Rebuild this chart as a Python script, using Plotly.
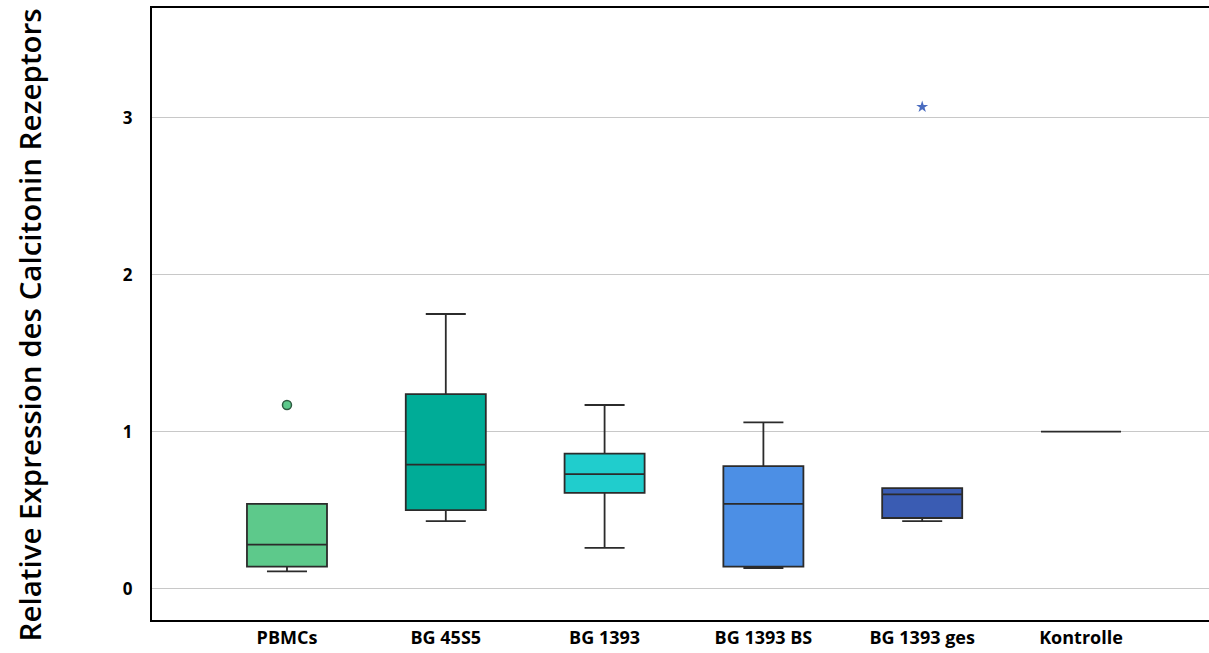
import plotly.graph_objects as go

categories = ["PBMCs", "BG 45S5", "BG 1393", "BG 1393 BS", "BG 1393 ges", "Kontrolle"]
q1 = [0.14, 0.50, 0.61, 0.14, 0.45, 1.0]
median = [0.28, 0.79, 0.73, 0.54, 0.60, 1.0]
q3 = [0.54, 1.24, 0.86, 0.78, 0.64, 1.0]
lowerfence = [0.11, 0.43, 0.26, 0.13, 0.43, 1.0]
upperfence = [0.54, 1.75, 1.17, 1.06, 0.64, 1.0]
colors = ["#5DC98B", "#00AC97", "#20CDCD", "#4C8FE5", "#3A5CB3", "#FFFFFF"]

outlier_cat = ["PBMCs", "BG 1393 ges"]
outlier_val = [1.17, 3.07]

fig = go.Figure()
for i, c in enumerate(categories):
    fig.add_trace(go.Box(
        x=[c], q1=[q1[i]], median=[median[i]], q3=[q3[i]],
        lowerfence=[lowerfence[i]], upperfence=[upperfence[i]],
        fillcolor=colors[i], line=dict(color="#2b2b2b", width=1.8),
        width=0.504, whiskerwidth=0.5, boxpoints=False, showlegend=False,
        hoverinfo="skip",
    ))

fig.add_trace(go.Scatter(
    x=[outlier_cat[0]], y=[outlier_val[0]], mode="markers",
    marker=dict(symbol="circle", size=9, color="#5DC98B", line=dict(color="#2E5A40", width=1.5)),
    showlegend=False,
))
fig.add_trace(go.Scatter(
    x=[outlier_cat[1]], y=[outlier_val[1]], mode="markers",
    marker=dict(symbol="star", size=9, color="#4A6CC0", line=dict(width=0)),
    showlegend=False,
))

fig.update_layout(
    width=1209, height=653,
    margin=dict(l=152, r=0, t=8, b=33),
    plot_bgcolor="white", paper_bgcolor="white",
    font=dict(family="Open Sans", color="black"),
    xaxis=dict(
        type="category", categoryorder="array", categoryarray=categories,
        range=[-0.85, 5.806], showgrid=False, zeroline=False,
        showline=True, linecolor="black", linewidth=2, mirror=True,
        ticks="", ticklabelstandoff=0, automargin=False,
        tickfont=dict(size=18, family="Open Sans", weight="bold"),
    ),
    yaxis=dict(
        range=[-0.2, 3.7], tickvals=[0, 1, 2, 3],
        showgrid=True, gridcolor="#c8c8c8", gridwidth=1.2, zeroline=False,
        showline=True, linecolor="black", linewidth=2, mirror=False,
        ticks="", ticklabelstandoff=14, automargin=False,
        tickfont=dict(size=17, family="Open Sans", weight="bold"),
    ),
    annotations=[dict(
        text="Relative Expression des Calcitonin Rezeptors",
        xref="paper", yref="paper", x=-0.116, y=0.482,
        xanchor="center", yanchor="middle", textangle=-90, showarrow=False,
        font=dict(size=29.5, family="Open Sans", weight=600, color="black"),
    )],
)

fig.write_html("out.html")
